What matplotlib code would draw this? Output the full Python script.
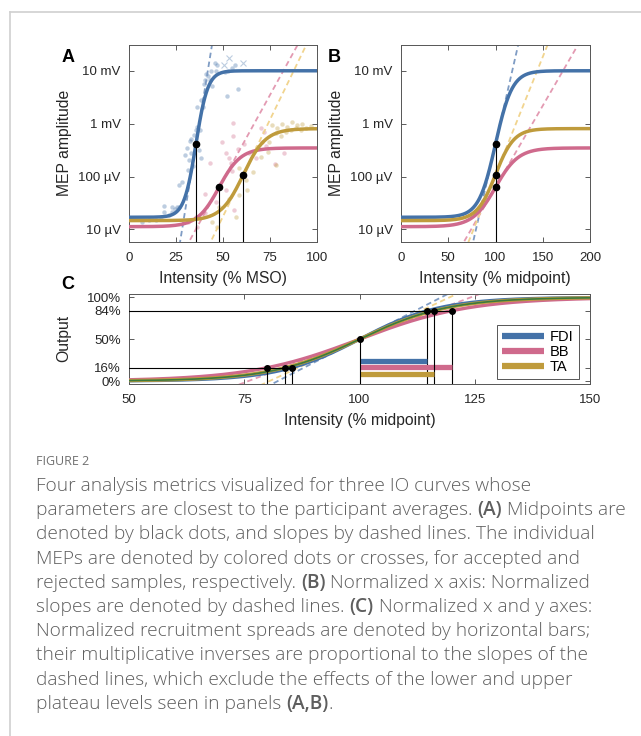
import numpy as np
import matplotlib.pyplot as plt

plt.rcParams['font.family'] = ['Liberation Sans', 'DejaVu Sans']

W, H = 641, 736

# ---- data ----
muscles = ['FDI', 'BB', 'TA']
colors = ['#4472a8', '#cf6a8c', '#bf9b3c']
dash_colors = ['#7f9cc4', '#e39ab2', '#f1d48e']
midpoint = [35.6, 47.9, 60.8]        # % MSO
low_uv = [16.9, 11.2, 14.6]          # lower plateau (uV)
high_uv = [10100, 348, 809]          # upper plateau (uV)
x16 = [85.3, 80.0, 83.8]             # % midpoint at 16 % output
x84 = [114.7, 120.0, 116.2]          # % midpoint at 84 % output
bar_y = [0.24, 0.165, 0.09]
avg_x16 = 84.0                        # green reference curve
avg_x84 = 116.0

amp_ticks = [10, 100, 1000, 10000]
amp_labels = ['10 µV', '100 µV', '1 mV', '10 mV']
out_ticks = [0, 0.16, 0.5, 0.84, 1.0]
out_labels = ['0%', '16%', '50%', '84%', '100%']

fdi_x = [45.7, 47.0, 41.1, 43.4, 42.2, 40.4, 39.7, 43.1, 44.3, 38.5, 36.3, 52.0, 58.0, 52.8,
         55.0, 56.4, 46.5, 51.1, 32.4, 31.0, 29.8, 31.9, 34.2, 28.4, 26.6, 24.5, 22.7, 21.3,
         18.6, 16.8, 14.2, 10.6, 26.6, 33.0, 32.8, 35.5, 34.6, 7.1, 36.0, 37.8, 39.5, 37.0,
         31.6, 38.2, 18.6, 22.7, 25.7]
fdi_y = [13900, 12900, 8960, 9900, 7950, 6880, 5700, 6880, 5130, 2860, 2040, 3400, 4640, 9900,
         11200, 12900, 10200, 9650, 472, 342, 255, 205, 157, 79, 68, 24.5, 27, 19,
         21, 17, 15, 14.7, 27, 275, 515, 766, 614, 14, 880, 762, 2100, 316,
         133, 222, 28, 21.6, 26.8]
fdi_rej_x = [50.5, 53.2, 60.6]
fdi_rej_y = [12900, 17300, 13900]

bb_x = [43.1, 49.3, 51.4, 53.2, 54.1, 55.0, 58.2, 61.2, 63.8, 67.4, 70.6, 72.7, 77.5, 82.4,
        51.4, 56.0, 40.4, 46.1, 35.5, 55.3, 55.3, 70.4, 71.8, 31.6, 36.0, 40.4]
bb_y = [182, 457, 282, 221, 182, 128, 327, 413, 275, 221, 457, 378, 172, 282,
        55, 23, 47, 33, 17, 1026, 596, 847, 692, 13.6, 11, 20]

ta_x = [76.2, 78.9, 81.6, 84.2, 86.9, 89.5, 92.2, 78.0, 80.7, 83.3, 86.0, 88.7, 91.3, 94.0,
        96.6, 74.5, 58.5, 62.1, 66.0, 68.3, 70.0, 74.1, 78.0, 56.7, 44.3, 47.9, 47.0, 58.5,
        53.2, 63.0]
ta_y = [953, 824, 982, 885, 1075, 953, 982, 661, 596, 692, 766, 824, 766, 847,
        912, 457, 142, 85, 122, 367, 237, 295, 164, 17, 13.6, 26, 11, 44,
        38, 55]

scatter_x = [fdi_x, bb_x, ta_x]
scatter_y = [fdi_y, bb_y, ta_y]

caption = [
    [('Four analysis metrics visualized for three IO curves whose', False)],
    [('parameters are closest to the participant averages.', False), ('(A)', True),
     ('Midpoints are', False)],
    [('denoted by black dots, and slopes by dashed lines. The individual', False)],
    [('MEPs are denoted by colored dots or crosses, for accepted and', False)],
    [('rejected samples, respectively.', False), ('(B)', True),
     ('Normalized x axis: Normalized', False)],
    [('slopes are denoted by dashed lines.', False), ('(C)', True),
     ('Normalized x and y axes:', False)],
    [('Normalized recruitment spreads are denoted by horizontal bars;', False)],
    [('their multiplicative inverses are proportional to the slopes of the', False)],
    [('dashed lines, which exclude the effects of the lower and upper', False)],
    [('plateau levels seen in panels', False), ('(A,B)', True), ('.', False)],
]
no_space_before = {'.'}

# ---- figure ----
fig = plt.figure(figsize=(W / 100, H / 100), dpi=100)


def ax_px(l, t, r, b):
    return fig.add_axes([l / W, 1 - b / H, (r - l) / W, (b - t) / H])


def ftext(px, py, s, **kw):
    return fig.text(px / W, 1 - py / H, s, **kw)


def style(ax):
    ax.tick_params(direction='in', top=True, right=True, length=3.5, width=0.6,
                   labelsize=9.5, labelcolor='#262626', color='#404040', pad=6)
    ax.tick_params(axis='x', pad=7)
    ax.tick_params(which='minor', length=0)
    for s in ax.spines.values():
        s.set_color('#555555')
        s.set_linewidth(0.7)


ln84 = np.log(0.84 / 0.16)
k_norm = [2 * ln84 / (b - a) for a, b in zip(x16, x84)]

axA = ax_px(129, 45, 317, 242)
axB = ax_px(401, 45, 590, 242)
axC = ax_px(129, 294, 590, 384)
ylimA = (5.74, 31100)

for i in range(3):
    L, Hh = np.log10(low_uv[i]), np.log10(high_uv[i])
    x0 = midpoint[i]
    kA = k_norm[i] * 100 / x0
    xs = np.linspace(0, 100, 400)
    ys = 10 ** (L + (Hh - L) / (1 + np.exp(-kA * (xs - x0))))
    axA.plot(scatter_x[i], scatter_y[i], 'o', ms=3.2, mec='none', mfc=colors[i], alpha=0.35, zorder=1)
    mid_log = (L + Hh) / 2
    sl = (Hh - L) * kA / 4
    xt = np.array([0, 100])
    axA.plot(xt, 10 ** (mid_log + sl * (xt - x0)), color=dash_colors[i], lw=1.3,
             dashes=(3, 2), zorder=2)
    axA.plot(xs, ys, color=colors[i], lw=2.5, zorder=3)
    axA.plot([x0, x0], [ylimA[0], 10 ** mid_log], color='black', lw=0.8, zorder=4)
    axA.plot(x0, 10 ** mid_log, 'o', color='black', ms=4.5, zorder=5)

    # panel B: x normalized to midpoint
    xn = np.linspace(0, 200, 400)
    yn = 10 ** (L + (Hh - L) / (1 + np.exp(-k_norm[i] * (xn - 100))))
    sln = (Hh - L) * k_norm[i] / 4
    xt = np.array([0, 200])
    axB.plot(xt, 10 ** (mid_log + sln * (xt - 100)), color=dash_colors[i], lw=1.3,
             dashes=(3, 2), zorder=2)
    axB.plot(xn, yn, color=colors[i], lw=2.5, zorder=3)
    axB.plot(100, 10 ** mid_log, 'o', color='black', ms=4.5, zorder=5)

axA.plot(fdi_rej_x, fdi_rej_y, 'x', ms=5, mew=0.8, color=colors[0], alpha=0.35, zorder=1)
top_mid = max(np.sqrt(l * h) for l, h in zip(low_uv, high_uv))
axB.plot([100, 100], [ylimA[0], top_mid], color='black', lw=0.8, zorder=4)

for ax, xl, xt in [(axA, (0, 100), [0, 25, 50, 75, 100]), (axB, (0, 200), [0, 50, 100, 150, 200])]:
    ax.set_yscale('log')
    ax.set_xlim(*xl)
    ax.set_ylim(*ylimA)
    ax.set_xticks(xt)
    ax.set_yticks(amp_ticks)
    ax.set_yticklabels(amp_labels)
    ax.yaxis.set_minor_locator(plt.NullLocator())
    style(ax)

# panel C
ylimC = (-0.035, 1.04)
xc = np.linspace(50, 150, 400)
for i in range(3):
    k = k_norm[i]
    xt = np.array([50, 150])
    axC.plot(xt, 0.5 + k / 4 * (xt - 100), color=dash_colors[i], lw=1.3, dashes=(3, 2), zorder=2)
for i in range(3):
    axC.plot(xc, 1 / (1 + np.exp(-k_norm[i] * (xc - 100))), color=colors[i], lw=2.4, zorder=3,
             label=muscles[i])
k_avg = 2 * ln84 / (avg_x84 - avg_x16)
axC.plot(xc, 1 / (1 + np.exp(-k_avg * (xc - 100))), color='#3b7a3e', lw=1.2, zorder=3.5)

axC.plot([50, max(x84)], [0.84, 0.84], color='black', lw=0.8, zorder=4)
axC.plot([50, max(x16)], [0.16, 0.16], color='black', lw=0.8, zorder=4)
for i in range(3):
    axC.plot([x16[i], x16[i]], [ylimC[0], 0.16], color='black', lw=0.8, zorder=4)
    axC.plot([x84[i], x84[i]], [ylimC[0], 0.84], color='black', lw=0.8, zorder=4)
    axC.plot([x16[i], x84[i]], [0.16, 0.84], 'o', color='black', ms=4, zorder=5)
    axC.plot([100, x84[i]], [bar_y[i], bar_y[i]], color=colors[i], lw=3.8,
             solid_capstyle='butt', zorder=4)
axC.plot([100, 100], [ylimC[0], 0.5], color='black', lw=0.8, zorder=4)
axC.plot(100, 0.5, 'o', color='black', ms=4, zorder=5)

axC.set_xlim(50, 150)
axC.set_ylim(*ylimC)
axC.set_xticks([50, 75, 100, 125, 150])
axC.set_yticks(out_ticks)
axC.set_yticklabels(out_labels)
style(axC)
leg = axC.legend(loc='lower right', bbox_to_anchor=(0.976, 0.056), borderaxespad=0,
                 fontsize=10.5, handlelength=2.9, handletextpad=0.4, borderpad=0.35,
                 labelspacing=0.05, fancybox=False, framealpha=1, edgecolor='#555555')
leg.get_frame().set_linewidth(0.7)
for h in leg.get_lines():
    h.set_linewidth(4.5)
    h.set_solid_capstyle('butt')

# labels
lab = dict(fontsize=11.3, color='#262626', ha='center', va='center')
ftext(223, 279, 'Intensity (% MSO)', **lab)
ftext(495, 279, 'Intensity (% midpoint)', **lab)
ftext(360, 420, 'Intensity (% midpoint)', **lab)
ftext(64, 143, 'MEP amplitude', rotation=90, **lab)
ftext(336, 143, 'MEP amplitude', rotation=90, **lab)
ftext(64, 338, 'Output', rotation=90, **lab)
pan = dict(fontsize=13, fontweight='bold', ha='center', va='center', color='black')
ftext(68, 57, 'A', **pan)
ftext(334, 57, 'B', **pan)
ftext(68, 284, 'C', **pan)

# frame
fig.add_artist(plt.Line2D([10 / W, 10 / W], [0, 1 - 12 / H], color='#d0d0d0', lw=1.2))
fig.add_artist(plt.Line2D([10 / W, 1], [1 - 12 / H, 1 - 12 / H], color='#d0d0d0', lw=1.2))

# caption
cap_font = ['Open Sans', 'DejaVu Sans']
cap_fs = 13.75
cap_col = '#5e5e5e'
ftext(36, 462, 'FIGURE 2', fontsize=9, family=cap_font, color='#707070', va='center')
r = fig.canvas.get_renderer()


def wid(s, weight):
    t = fig.text(0, 0, s, fontsize=cap_fs, family=cap_font, fontweight=weight)
    w = t.get_window_extent(r).width
    t.remove()
    return w


sp = wid('x x', 'light') - wid('xx', 'light')
for i, line in enumerate(caption):
    x = 36
    py = 486 + i * 24.2
    for j, (s, b) in enumerate(line):
        if j > 0 and s not in no_space_before:
            x += sp
        wt = 'semibold' if b else 'light'
        ftext(x, py, s, fontsize=cap_fs, family=cap_font, fontweight=wt, color=cap_col,
              va='center', ha='left')
        x += wid(s, wt)

fig.savefig('out.png', dpi=100)
